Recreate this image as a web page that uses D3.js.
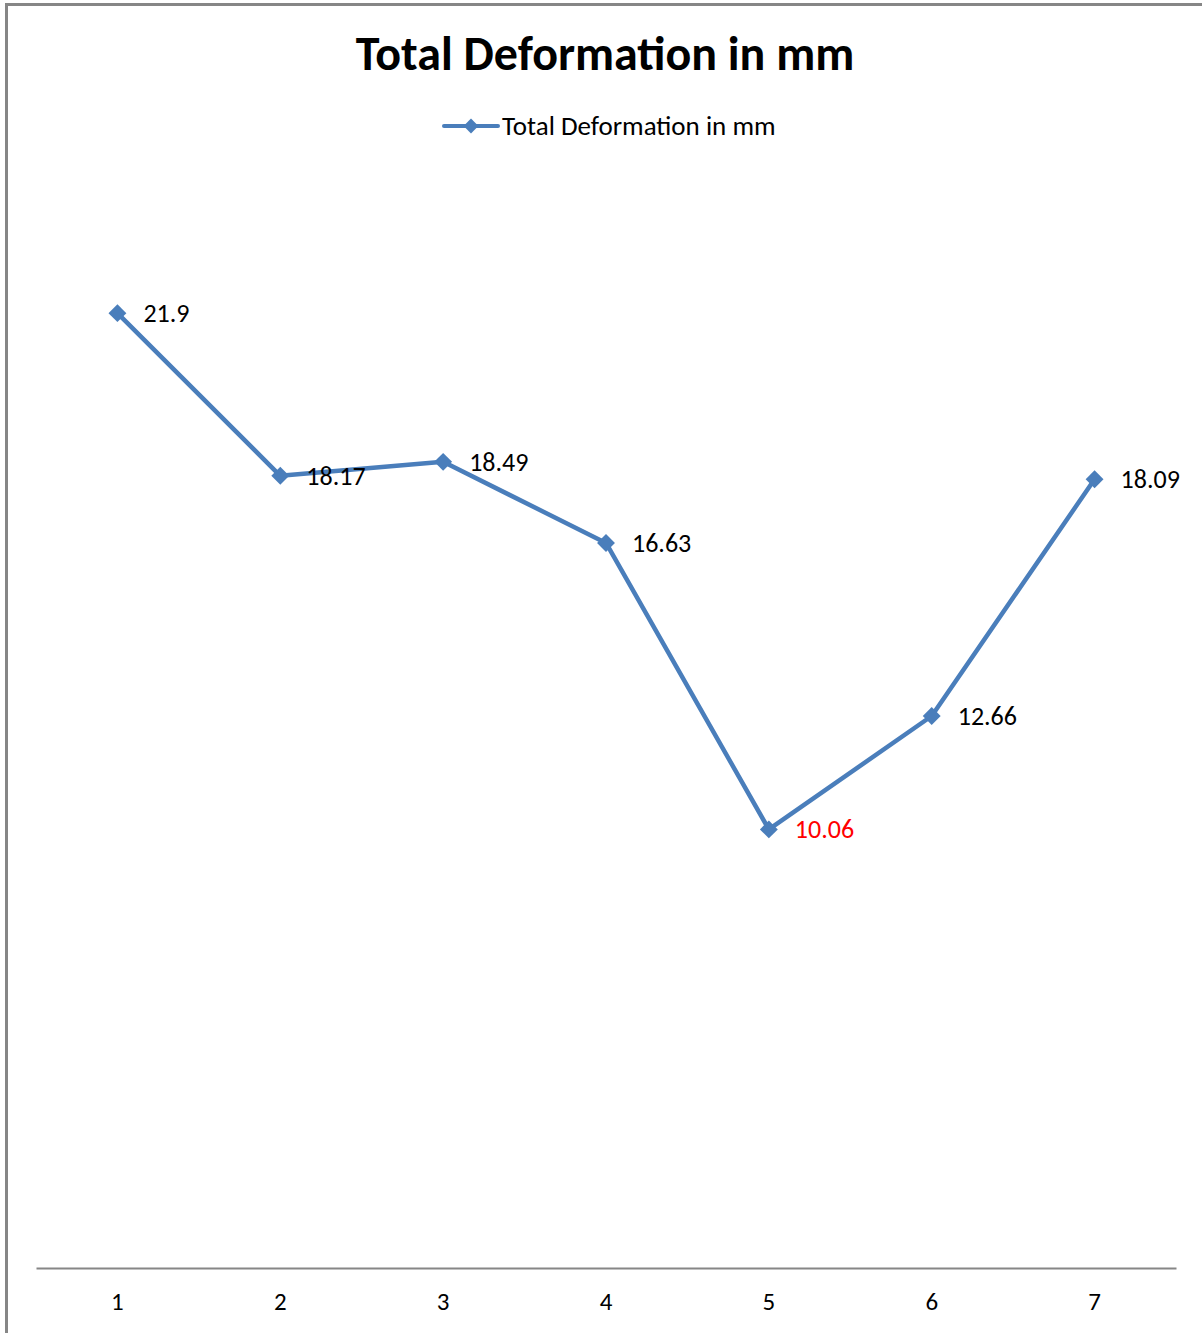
<!DOCTYPE html>
<html>
<head>
<meta charset="utf-8">
<script src="https://cdn.jsdelivr.net/npm/d3@7"></script>
<style>
  html, body { margin: 0; padding: 0; background: #fff; }
  svg { display: block; }
  text { font-family: Carlito, Calibri, "Open Sans", "Noto Sans", sans-serif; }
</style>
</head>
<body>
<div id="chart"></div>
<script>
// data
const categories = ['1', '2', '3', '4', '5', '6', '7']
const deformation = [21.9, 18.17, 18.49, 16.63, 10.06, 12.66, 18.09]
const seriesName = 'Total Deformation in mm'
const highlightIndex = 4

const width = 1202
const height = 1333
const margin = { top: 178, bottom: 65, left: 36, right: 26 }
const blue = '#4a7ebb'
const font = 'Carlito, Calibri, "Open Sans", "Noto Sans", sans-serif'

const svg = d3.select('#chart').append('svg')
  .attr('width', width)
  .attr('height', height)

// frame (left + top edges visible)
svg.append('path')
  .attr('d', `M6.5 ${height}L6.5 4.5L${width} 4.5`)
  .attr('fill', 'none')
  .attr('stroke', '#868686')
  .attr('stroke-width', 3)

// TITLE
svg.append('text')
  .attr('x', 605)
  .attr('y', 70)
  .attr('text-anchor', 'middle')
  .attr('font-size', 48)
  .attr('font-weight', 'bold')
  .text(seriesName)

// LEGEND
const legend = svg.append('g').attr('transform', 'translate(444 126)')
legend.append('line')
  .attr('x1', 0).attr('x2', 54)
  .attr('stroke', blue)
  .attr('stroke-width', 4)
  .attr('stroke-linecap', 'round')
legend.append('path')
  .attr('d', d3.symbol(d3.symbolSquare, 110)())
  .attr('transform', 'translate(27 0) rotate(45)')
  .attr('fill', blue)
legend.append('text')
  .attr('x', 58)
  .attr('dy', '0.35em')
  .attr('font-size', 27)
  .text(seriesName)

// SCALES
const xScale = d3.scaleBand()
  .domain(categories)
  .range([margin.left, width - margin.right])

const yScale = d3.scaleLinear()
  .domain([0, 25])
  .range([height - margin.bottom, margin.top])

const cx = d => xScale(d) + xScale.bandwidth() / 2

// X-AXIS
const xAxis = d3.axisBottom(xScale).tickSize(0).tickPadding(24)
const axisG = svg.append('g')
  .attr('transform', `translate(0 ${yScale(0)})`)
  .call(xAxis)
axisG.select('.domain')
  .attr('stroke', '#868686')
  .attr('stroke-width', 2)
axisG.selectAll('text')
  .attr('font-size', 25)
  .attr('font-family', font)
  .attr('fill', '#000')

// LINE
const points = categories.map((c, i) => ({ c, v: deformation[i], i }))

svg.append('path')
  .datum(points)
  .attr('fill', 'none')
  .attr('stroke', blue)
  .attr('stroke-width', 4.5)
  .attr('stroke-linejoin', 'round')
  .attr('d', d3.line()
    .x(d => cx(d.c))
    .y(d => yScale(d.v)))

// MARKERS
svg.append('g')
  .selectAll('path')
  .data(points)
  .enter().append('path')
  .attr('d', d3.symbol(d3.symbolSquare, 160)())
  .attr('transform', d => `translate(${cx(d.c)} ${yScale(d.v)}) rotate(45)`)
  .attr('fill', blue)

// DATA LABELS
svg.append('g')
  .selectAll('text')
  .data(points)
  .enter().append('text')
  .attr('x', d => cx(d.c) + 26)
  .attr('y', d => yScale(d.v))
  .attr('dy', '0.35em')
  .attr('font-size', 26)
  .attr('fill', d => d.i === highlightIndex ? '#ff0000' : '#000')
  .text(d => d.v)
</script>
</body>
</html>
